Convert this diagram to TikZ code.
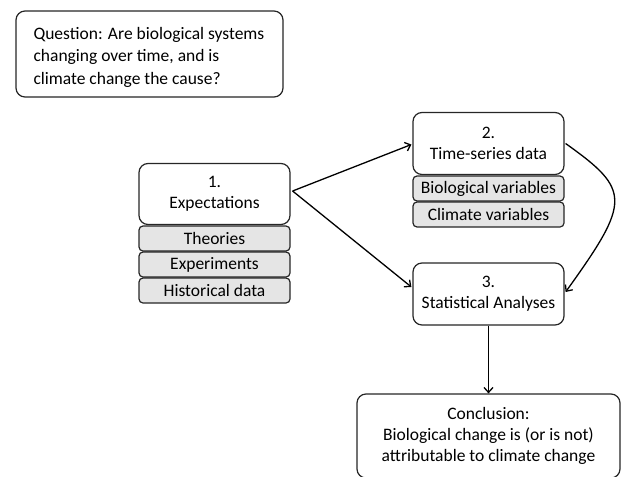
\documentclass[tikz,border=0pt]{standalone}
\usepackage{fontspec}
\setmainfont{Carlito}
\usetikzlibrary{arrows.meta,calc}
\begin{document}
\begin{tikzpicture}[x=1pt,y=-1pt,
  every node/.style={font=\fontsize{17.5}{21}\selectfont},
  mainbox/.style={draw=black!85,line width=1.2pt,rounded corners=9pt,fill=white,align=center,inner sep=0pt},
  subbox/.style={draw=black!85,line width=1.2pt,rounded corners=4pt,fill=black!10,align=center,inner sep=0pt,minimum width=151pt,minimum height=25pt},
  conn/.style={line width=1.3pt,-{Straight Barb[length=5pt,width=9pt,line width=1.3pt]}}]
\useasboundingbox (0,0) rectangle (622,477);
\node[mainbox,minimum width=267pt,minimum height=86pt] (q) at (149.5,54) {};
\node[anchor=west,align=left,font=\fontsize{17.5}{22.5}\selectfont] (qt) at (30,57) {Question: Are biological systems\\changing over time, and is\\climate change the cause?};
\node[mainbox,minimum width=151pt,minimum height=61pt] (b1) at (214.5,194) {1.\\Expectations};
\node[subbox] (th) at (214.5,238.5) {Theories};
\node[subbox] (ex) at (214.5,264.5) {Experiments};
\node[subbox] (hd) at (214.5,290.5) {Historical data};
\node[mainbox,minimum width=151pt,minimum height=62pt] (b2) at (488.5,143.5) {2.\\Time-series data};
\node[subbox] (bv) at (488.5,188.5) {Biological variables};
\node[subbox] (cv) at (488.5,214.5) {Climate variables};
\node[mainbox,minimum width=151pt,minimum height=62pt] (b3) at (488.5,294) {3.\\Statistical Analyses};
\node[mainbox,minimum width=263pt,minimum height=84pt] (c) at (488.5,436) {Conclusion:\\Biological change is (or is not)\\attributable to climate change};
\draw[conn] ([xshift=2pt,yshift=3pt]b1.east) -- ([xshift=-1pt,yshift=-1pt]b2.west);
\draw[conn] ([xshift=2pt,yshift=3pt]b1.east) -- ([xshift=-1pt,yshift=7pt]b3.west);
\draw[conn] ([xshift=1pt]b2.east) .. controls (631,190) and (631,201) .. ([xshift=1pt,yshift=2pt]b3.east);
\draw[conn] (b3.south) -- (c.north);
\end{tikzpicture}
\end{document}
